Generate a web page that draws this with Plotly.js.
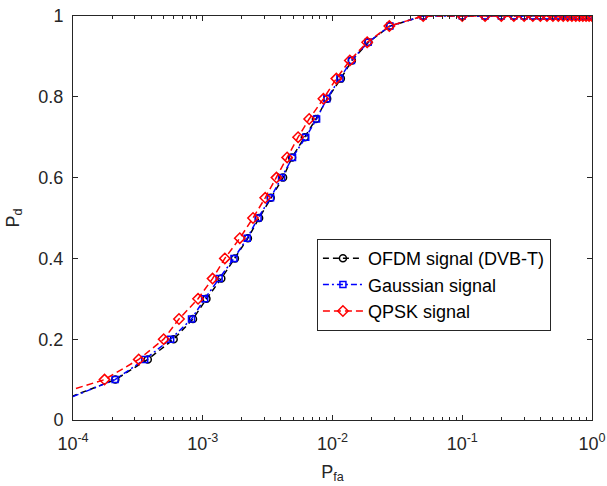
<!DOCTYPE html>
<html>
<head>
<meta charset="utf-8">
<script src="https://cdn.plot.ly/plotly-3.0.1.min.js"></script>
<style>html,body{margin:0;padding:0;background:#fff;}#chart{width:607px;height:486px;}</style>
</head>
<body>
<div id="chart"></div>
<script>
// ---- data ----
const seriesNames = ["OFDM signal (DVB-T)", "Gaussian signal", "QPSK signal"];

const pfaOFDM = [5e-5, 2.12e-4, 3.77e-4, 5.97e-4, 8.41e-4, 1.068e-3, 1.39e-3, 1.77e-3, 2.23e-3, 2.72e-3, 3.34e-3, 4.16e-3, 4.88e-3, 6.12e-3, 7.45e-3, 9.1e-3, 1.16e-2, 1.41e-2, 1.89e-2, 2.77e-2,
  0.05, 0.10, 0.15, 0.20, 0.25, 0.30, 0.35, 0.40, 0.45, 0.50, 0.55, 0.60, 0.65, 0.70, 0.75, 0.80, 0.85, 0.90, 0.95, 1.00];
const pdOFDM = [0.022, 0.10, 0.15, 0.20, 0.25, 0.30, 0.35, 0.40, 0.45, 0.50, 0.55, 0.60, 0.65, 0.70, 0.745, 0.795, 0.845, 0.89, 0.935, 0.975,
  1, 1, 1, 1, 1, 1, 1, 1, 1, 1, 1, 1, 1, 1, 1, 1, 1, 1, 1, 1];

const pfaGauss = [5e-5, 2.11e-4, 3.57e-4, 5.66e-4, 8.19e-4, 1.035e-3, 1.337e-3, 1.74e-3, 2.20e-3, 2.67e-3, 3.33e-3, 4.05e-3, 4.92e-3, 6.22e-3, 7.54e-3, 9.04e-3, 1.14e-2, 1.40e-2, 1.88e-2, 2.77e-2,
  0.05, 0.10, 0.15, 0.20, 0.25, 0.30, 0.35, 0.40, 0.45, 0.50, 0.55, 0.60, 0.65, 0.70, 0.75, 0.80, 0.85, 0.90, 0.95, 1.00];
const pdGauss = [0.019, 0.10, 0.15, 0.20, 0.25, 0.30, 0.35, 0.40, 0.45, 0.50, 0.55, 0.60, 0.65, 0.70, 0.745, 0.795, 0.845, 0.89, 0.935, 0.975,
  1, 1, 1, 1, 1, 1, 1, 1, 1, 1, 1, 1, 1, 1, 1, 1, 1, 1, 1, 1];

const pfaQPSK = [5e-5, 1.75e-4, 3.21e-4, 5.00e-4, 6.56e-4, 9.20e-4, 1.19e-3, 1.48e-3, 1.93e-3, 2.44e-3, 3.03e-3, 3.70e-3, 4.47e-3, 5.43e-3, 6.61e-3, 8.51e-3, 1.07e-2, 1.36e-2, 1.85e-2, 2.74e-2,
  0.05, 0.10, 0.15, 0.20, 0.25, 0.30, 0.35, 0.40, 0.45, 0.50, 0.55, 0.60, 0.65, 0.70, 0.75, 0.80, 0.85, 0.90, 0.95, 1.00];
const pdQPSK = [0.046, 0.10, 0.15, 0.20, 0.25, 0.30, 0.35, 0.40, 0.45, 0.50, 0.55, 0.60, 0.65, 0.70, 0.745, 0.795, 0.845, 0.89, 0.935, 0.975,
  1, 1, 1, 1, 1, 1, 1, 1, 1, 1, 1, 1, 1, 1, 1, 1, 1, 1, 1, 1];

const xTickVals = [1e-4, 1e-3, 1e-2, 1e-1, 1];
const xTickText = ["10<sup>-4</sup>", "10<sup>-3</sup>", "10<sup>-2</sup>", "10<sup>-1</sup>", "10<sup>0</sup>"];
const yTickVals = [0, 0.2, 0.4, 0.6, 0.8, 1];
const yTickText = ["0", "0.2", "0.4", "0.6", "0.8", "1"];

// minor tick positions of the log axis (2..9 in each decade)
const minorVals = [];
for (let d = -4; d < 0; d++) for (let m = 2; m <= 9; m++) minorVals.push(m * Math.pow(10, d));

const axisColor = "#262626";
const FONT = "Arial, 'Liberation Sans', Helvetica, sans-serif";

const traces = [
  {x: pfaOFDM, y: pdOFDM, name: seriesNames[0], type: "scatter", mode: "lines+markers",
   line: {color: "#000000", width: 1.5, dash: "6px,4px"},
   marker: {symbol: "circle-open", size: 7, color: "#000000", line: {width: 1.5}}},
  {x: pfaGauss, y: pdGauss, name: seriesNames[1], type: "scatter", mode: "lines+markers",
   line: {color: "#0000ff", width: 1.5, dash: "6px,3px,2px,3px"},
   marker: {symbol: "square-open", size: 6, color: "#0000ff", line: {width: 1.5}}},
  {x: pfaQPSK, y: pdQPSK, name: seriesNames[2], type: "scatter", mode: "lines+markers",
   line: {color: "#ff0000", width: 1.5, dash: "7px,4px"},
   marker: {symbol: "diamond-open", size: 8, color: "#ff0000", line: {width: 1.5}}}
];

const layout = {
  width: 607, height: 486,
  margin: {l: 73, r: 15, t: 16, b: 66},
  paper_bgcolor: "#ffffff", plot_bgcolor: "#ffffff",
  font: {family: FONT, size: 18, color: axisColor},
  showlegend: true,
  legend: {x: 0.47, y: 0.448, xanchor: "left", yanchor: "top",
           bgcolor: "#ffffff", bordercolor: axisColor, borderwidth: 1,
           itemwidth: 40,
           font: {family: FONT, size: 18, color: "#000000"}},
  xaxis: {
    type: "log", range: [-4, 0],
    tickmode: "array", tickvals: xTickVals, ticktext: xTickText,
    ticks: "inside", ticklen: 5, tickcolor: axisColor, ticklabelstandoff: 7,
    showline: true, linecolor: axisColor, linewidth: 1, mirror: "ticks",
    showgrid: false, zeroline: false,
    minor: {tickmode: "array", tickvals: minorVals, ticks: "inside", ticklen: 3, tickcolor: axisColor, showgrid: false},
    tickfont: {family: FONT, size: 18, color: axisColor},
    title: {text: "P<sub>fa</sub>", font: {family: FONT, size: 18, color: axisColor}, standoff: 12}
  },
  yaxis: {
    range: [0, 1],
    tickmode: "array", tickvals: yTickVals, ticktext: yTickText,
    ticks: "inside", ticklen: 5, tickcolor: axisColor, ticklabelstandoff: 5,
    showline: true, linecolor: axisColor, linewidth: 1, mirror: "ticks",
    showgrid: false, zeroline: false,
    tickfont: {family: FONT, size: 18, color: axisColor},
    title: {text: "P<sub>d</sub>", font: {family: FONT, size: 18, color: axisColor}, standoff: 14}
  }
};

Plotly.newPlot("chart", traces, layout, {staticPlot: true, displayModeBar: false});
</script>
</body>
</html>
